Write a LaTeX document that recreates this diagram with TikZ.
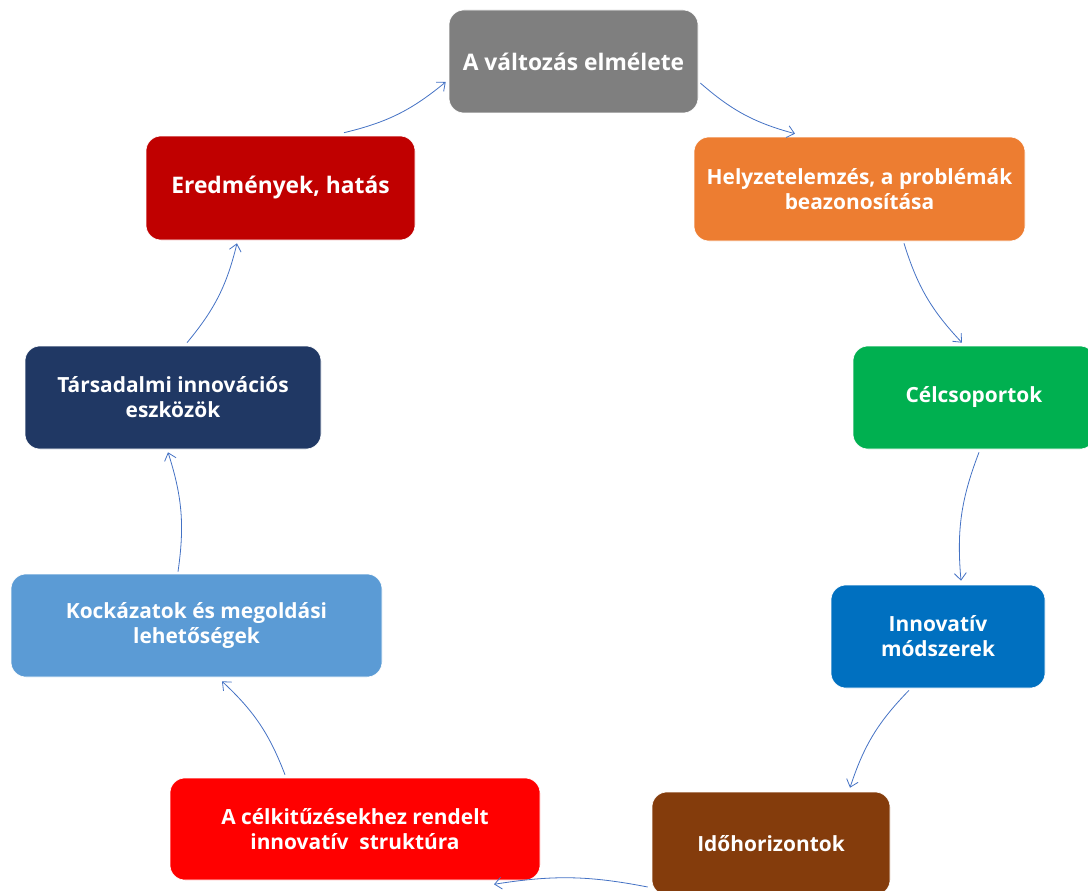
\documentclass[tikz,border=0pt]{standalone}
\usepackage{fontspec}
\setmainfont{Open Sans}
\usetikzlibrary{arrows.meta,calc}

\definecolor{cGray}{HTML}{7F7F7F}
\definecolor{cOrange}{HTML}{ED7D31}
\definecolor{cGreen}{HTML}{00B050}
\definecolor{cBlue}{HTML}{0070C0}
\definecolor{cBrown}{HTML}{843C0C}
\definecolor{cRed}{HTML}{FF0000}
\definecolor{cLightBlue}{HTML}{5B9BD5}
\definecolor{cNavy}{HTML}{203864}
\definecolor{cDarkRed}{HTML}{C00000}
\definecolor{cLink}{HTML}{4472C4}

\tikzset{
  stagebox/.style={rectangle, rounded corners=15pt, draw=white, line width=0.6pt,
    text=white, align=center, inner sep=0pt,
    font=\bfseries\fontsize{20.9}{25}\selectfont},
  bigtext/.style={font=\bfseries\fontsize{22.8}{27}\selectfont},
  link/.style={draw=cLink, line width=0.8pt, -{Straight Barb[length=7pt,width=12pt]}}
}

\begin{document}
\begin{tikzpicture}[x=1pt,y=-1pt]
  \useasboundingbox (0,0) rectangle (1088,891);

  \node[stagebox, bigtext, fill=cGray, minimum width=249pt, minimum height=103pt] (n1) at (573.5,61.5) {A változás elmélete};
  \node[stagebox, fill=cOrange,    minimum width=331pt, minimum height=104pt] (n2) at (859.5,189) {Helyzetelemzés, a problémák\\beazonosítása};
  \node[stagebox, fill=cGreen,     minimum width=242pt, minimum height=103pt] (n3) at (974,397.5) {Célcsoportok};
  \node[stagebox, fill=cBlue,      minimum width=214pt, minimum height=103pt] (n4) at (938,636.5) {Innovatív\\módszerek};
  \node[stagebox, fill=cBrown,     minimum width=238pt, minimum height=103pt] (n5) at (771,843.5) {Időhorizontok};
  \node[stagebox, fill=cRed,       minimum width=370pt, minimum height=102pt] (n6) at (355,829) {A célkitűzésekhez rendelt\\innovatív\ \ struktúra};
  \node[stagebox, fill=cLightBlue, minimum width=371pt, minimum height=103pt] (n7) at (196.5,625.5) {Kockázatok és megoldási\\lehetőségek};
  \node[stagebox, fill=cNavy,      minimum width=296pt, minimum height=103pt] (n8) at (173,397.5) {Társadalmi innovációs\\eszközök};
  \node[stagebox, bigtext, fill=cDarkRed, minimum width=269pt, minimum height=104pt] (n9) at (280.5,188) {Eredmények, hatás};

  % clockwise cycle of arrows
  \draw[link] ($(n9.north)+(63.5,-3)$) to[bend right=13] ($(n1.west)+(-3,20.5)$);
  \draw[link] ($(n1.east)+(2,21.5)$)   to[bend right=13] ($(n2.north)+(-64.5,-3)$);
  \draw[link] ($(n2.south)+(44.5,2)$)  to[bend right=13] ($(n3.north)+(-12,-3)$);
  \draw[link] ($(n3.south)+(5,3)$)     to[bend right=13] ($(n4.north)+(23,-4)$);
  \draw[link] ($(n4.south)+(-29,2)$)   to[bend right=13] ($(n5.north)+(79,-4)$);
  \draw[link] ($(n5.west)+(-4,43.5)$)  to[bend right=10] ($(n6.south)+(139,4)$);
  \draw[link] ($(n6.north)+(-70,-3)$)  to[bend right=13] ($(n7.south)+(25.5,4)$);
  \draw[link] ($(n7.north)+(-18.5,-2)$) to[bend right=13] ($(n8.south)+(-5,3)$);
  \draw[link] ($(n8.north)+(14,-3)$)   to[bend right=13] ($(n9.south)+(-43.5,3)$);
\end{tikzpicture}
\end{document}
